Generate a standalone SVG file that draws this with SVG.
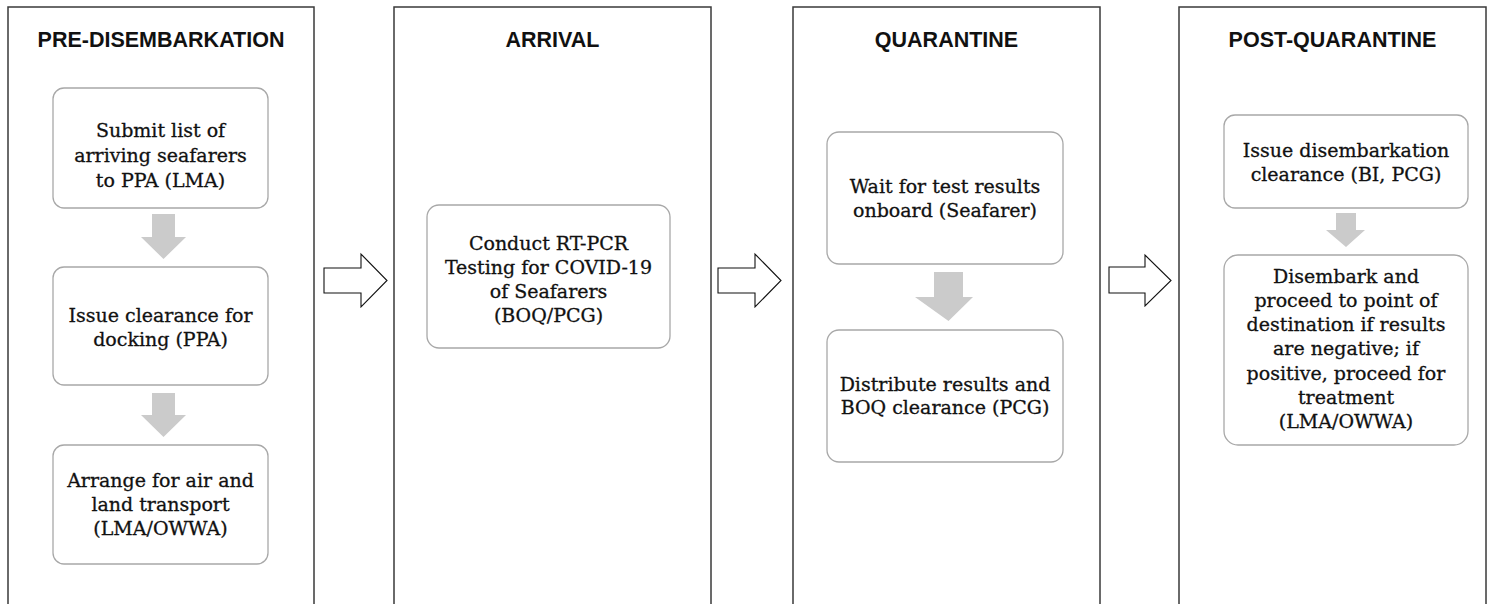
<svg xmlns="http://www.w3.org/2000/svg" width="1491" height="604" viewBox="0 0 1491 604">
<style>
.panel{fill:#fff;stroke:#3a3a3a;stroke-width:1.5}
.box{fill:#fff;stroke:#a8a8a8;stroke-width:1.3}
.title{font-family:"Liberation Sans",Arial,sans-serif;font-weight:bold;font-size:21.5px;fill:#111;text-anchor:middle}
.t{font-family:"DejaVu Serif",serif;font-size:19px;fill:#111;stroke:#111;stroke-width:0.3;text-anchor:middle}
.down{fill:#cbcbcb}
.hollow{fill:#fff;stroke:#111;stroke-width:1.1}
</style>
<rect width="1491" height="604" fill="#fff"/>
<g id="panel-pre">
<rect class="panel" x="8" y="7" width="306" height="610"/>
<text class="title" x="161" y="47">PRE-DISEMBARKATION</text>
</g>
<g id="panel-arrival">
<rect class="panel" x="394" y="7" width="317" height="610"/>
<text class="title" x="552.5" y="47">ARRIVAL</text>
</g>
<g id="panel-quarantine">
<rect class="panel" x="793" y="7" width="307" height="610"/>
<text class="title" x="946.5" y="47">QUARANTINE</text>
</g>
<g id="panel-post">
<rect class="panel" x="1179" y="7" width="307" height="610"/>
<text class="title" x="1332.5" y="47">POST-QUARANTINE</text>
</g>
<g id="n-submit">
<rect class="box" x="53" y="88" width="215" height="120" rx="11"/>
<text class="t" x="160.5" y="137">Submit list of</text>
<text class="t" x="160.5" y="162">arriving seafarers</text>
<text class="t" x="160.5" y="187">to PPA (LMA)</text>
</g>
<g id="n-docking">
<rect class="box" x="53" y="267" width="215" height="118" rx="11"/>
<text class="t" x="160.5" y="322">Issue clearance for</text>
<text class="t" x="160.5" y="346">docking (PPA)</text>
</g>
<g id="n-transport">
<rect class="box" x="53" y="445" width="215" height="119" rx="11"/>
<text class="t" x="160.5" y="487">Arrange for air and</text>
<text class="t" x="160.5" y="511">land transport</text>
<text class="t" x="160.5" y="535">(LMA/OWWA)</text>
</g>
<g id="n-rtpcr">
<rect class="box" x="427" y="205" width="243" height="143" rx="12"/>
<text class="t" x="548.5" y="250">Conduct RT-PCR</text>
<text class="t" x="548.5" y="274">Testing for COVID-19</text>
<text class="t" x="548.5" y="298">of Seafarers</text>
<text class="t" x="548.5" y="322">(BOQ/PCG)</text>
</g>
<g id="n-wait">
<rect class="box" x="827" y="132" width="236" height="132" rx="12"/>
<text class="t" x="945" y="193">Wait for test results</text>
<text class="t" x="945" y="217">onboard (Seafarer)</text>
</g>
<g id="n-distribute">
<rect class="box" x="827" y="330" width="236" height="132" rx="12"/>
<text class="t" x="945" y="391">Distribute results and</text>
<text class="t" x="945" y="414">BOQ clearance (PCG)</text>
</g>
<g id="n-clearance">
<rect class="box" x="1224" y="115" width="244" height="93" rx="11"/>
<text class="t" x="1346" y="157">Issue disembarkation</text>
<text class="t" x="1346" y="181">clearance (BI, PCG)</text>
</g>
<g id="n-disembark">
<rect class="box" x="1224" y="255" width="244" height="190" rx="14"/>
<text class="t" x="1346" y="283">Disembark and</text>
<text class="t" x="1346" y="307">proceed to point of</text>
<text class="t" x="1346" y="331">destination if results</text>
<text class="t" x="1346" y="355">are negative; if</text>
<text class="t" x="1346" y="380">positive, proceed for</text>
<text class="t" x="1346" y="404">treatment</text>
<text class="t" x="1346" y="428">(LMA/OWWA)</text>
</g>
<g id="connectors">
<polygon class="down" points="152,214 175,214 175,237 186,237 163.5,259 141,237 152,237"/>
<polygon class="down" points="152,393 175,393 175,415 186,415 163.5,437 141,415 152,415"/>
<polygon class="down" points="934,272 963,272 963,297 973,297 948.5,321 915,297 934,297"/>
<polygon class="down" points="1336,213 1356,213 1356,230 1365,230 1346,247 1326,230 1336,230"/>
<polygon class="hollow" points="324,268 361,268 361,254 387,280.5 361,307 361,293 324,293"/>
<polygon class="hollow" points="718,268 755,268 755,254 781,280.5 755,307 755,293 718,293"/>
<polygon class="hollow" points="1109,267 1145,267 1145,255 1171,280.5 1145,306 1145,293 1109,293"/>
</g>
</svg>
